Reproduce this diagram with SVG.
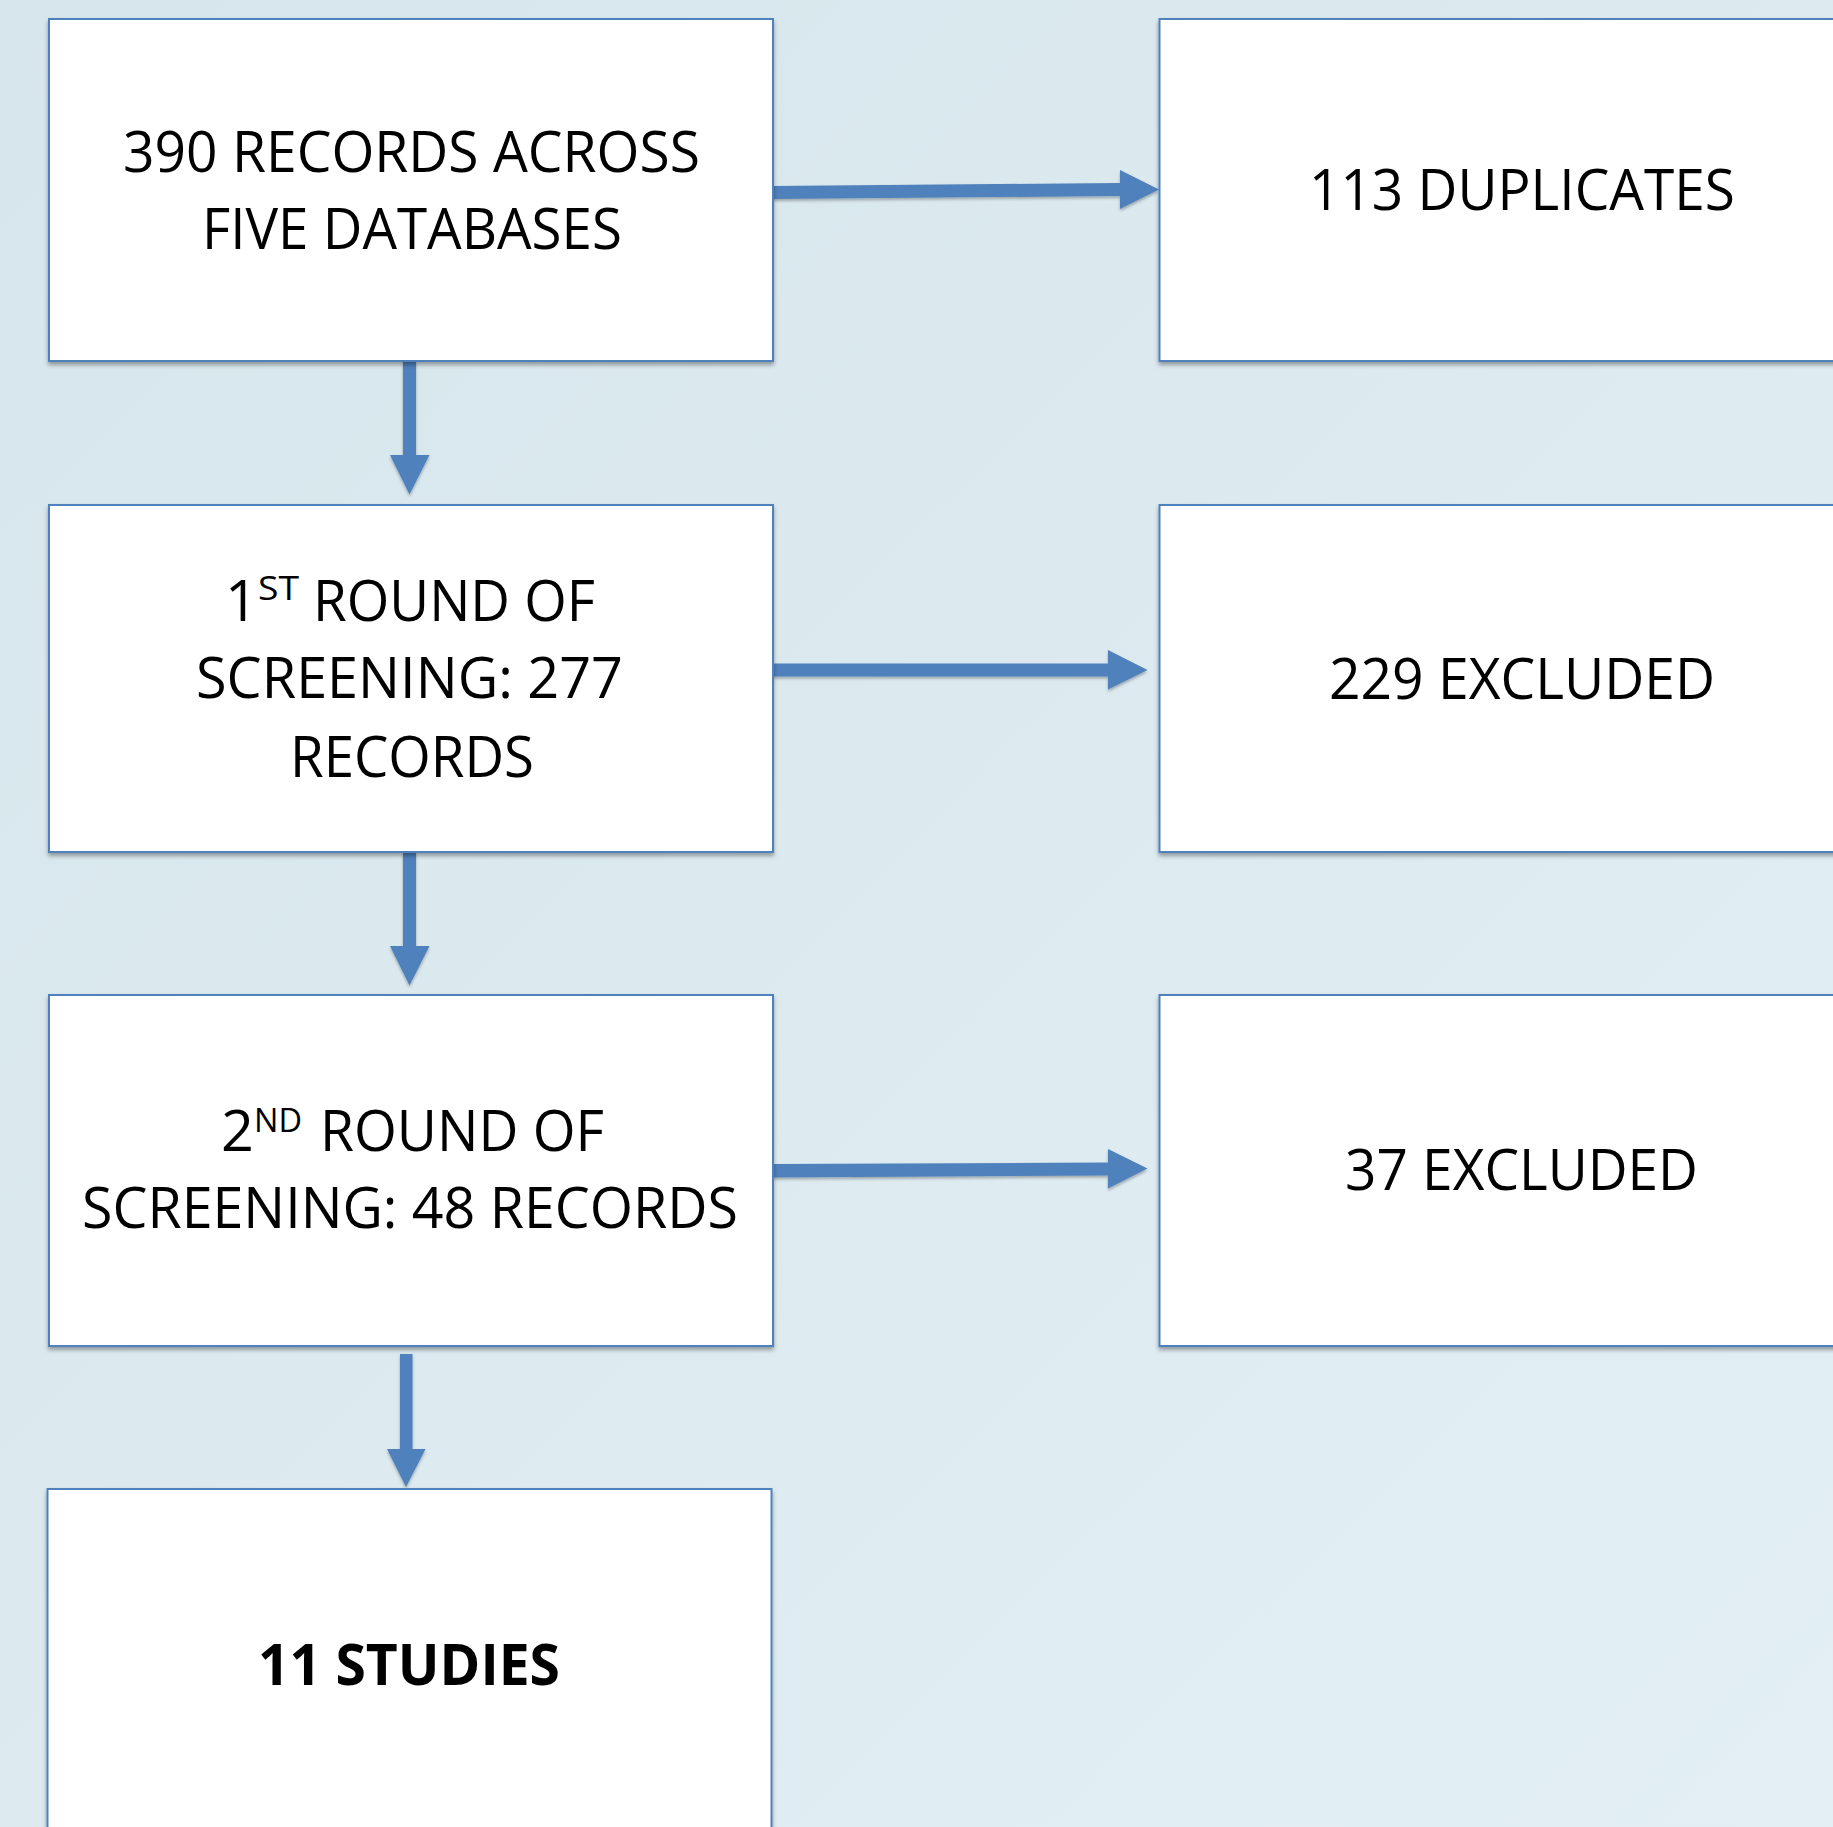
<svg xmlns="http://www.w3.org/2000/svg" width="1833" height="1827" viewBox="0 0 1833 1827">
<style>
.box{fill:#ffffff;stroke:#4f81bd;stroke-width:2;filter:url(#sh)}
.t{font-family:"Open Sans","Noto Sans","Liberation Sans",sans-serif;font-size:57.5px;fill:#000000}
.sup{font-size:33px}
.b{font-weight:bold}
.arr{fill:#4f81bd;filter:url(#ash)}
</style>
<defs>
<linearGradient id="bg" x1="0" y1="0" x2="1" y2="1">
<stop offset="0" stop-color="#d6e6ec"/>
<stop offset="1" stop-color="#e3eff4"/>
</linearGradient>
<filter id="sh" x="-5%" y="-5%" width="110%" height="115%">
<feDropShadow dx="0" dy="3" stdDeviation="2" flood-color="#000" flood-opacity="0.35"/>
</filter>
<filter id="ash" x="-10%" y="-20%" width="120%" height="150%">
<feDropShadow dx="0" dy="2" stdDeviation="1.5" flood-color="#000" flood-opacity="0.3"/>
</filter>
</defs>
<rect x="0" y="0" width="1833" height="1827" fill="url(#bg)"/>

<g id="connectors">
<path class="arr" d="M773,186 L1120,183 L1120,170 L1159,189.5 L1120,209 L1120,196 L773,199 Z"/>
<path class="arr" d="M773,663.5 L1108,663.5 L1108,650 L1147.5,670 L1108,689.5 L1108,676.5 L773,676.5 Z"/>
<path class="arr" d="M773,1164 L1108,1162.5 L1108,1149 L1147.5,1168.5 L1108,1188.5 L1108,1175.5 L773,1177.5 Z"/>
<path class="arr" d="M403,361 L416,361 L416,455 L429.5,455 L409.5,494.5 L390,455 L403,455 Z"/>
<path class="arr" d="M403,852 L416,852 L416,946 L429.5,946 L409.5,985.5 L390,946 L403,946 Z"/>
<path class="arr" d="M400,1354 L412.5,1354 L412.5,1449 L425.5,1449 L406,1487 L387,1449 L400,1449 Z"/>
</g>

<g id="n1">
<rect class="box" x="49" y="19" width="724" height="342"/>
<text class="t" x="123" y="172" textLength="577" lengthAdjust="spacingAndGlyphs">390 RECORDS ACROSS</text>
<text class="t" x="202" y="249" textLength="420" lengthAdjust="spacingAndGlyphs">FIVE DATABASES</text>
</g>
<g id="n2">
<rect class="box" x="1159.5" y="19" width="700" height="342"/>
<text class="t" x="1309" y="210" textLength="426" lengthAdjust="spacingAndGlyphs">113 DUPLICATES</text>
</g>
<g id="n3">
<rect class="box" x="49" y="505" width="724" height="347"/>
<text class="t" y="621"><tspan x="225">1</tspan><tspan class="sup" x="258" y="600" textLength="41" lengthAdjust="spacingAndGlyphs">ST</tspan><tspan x="313" y="621" textLength="282" lengthAdjust="spacingAndGlyphs">ROUND OF</tspan></text>
<text class="t" x="196" y="698" textLength="427" lengthAdjust="spacingAndGlyphs">SCREENING: 277</text>
<text class="t" x="290" y="777" textLength="244" lengthAdjust="spacingAndGlyphs">RECORDS</text>
</g>
<g id="n4">
<rect class="box" x="1159.5" y="505" width="700" height="347"/>
<text class="t" x="1329" y="699" textLength="386" lengthAdjust="spacingAndGlyphs">229 EXCLUDED</text>
</g>
<g id="n5">
<rect class="box" x="49" y="995" width="724" height="351"/>
<text class="t" y="1151"><tspan x="221">2</tspan><tspan class="sup" x="254" y="1131.5" textLength="48" lengthAdjust="spacingAndGlyphs">ND</tspan><tspan x="320" y="1151" textLength="284" lengthAdjust="spacingAndGlyphs">ROUND OF</tspan></text>
<text class="t" x="82" y="1228" textLength="656" lengthAdjust="spacingAndGlyphs">SCREENING: 48 RECORDS</text>
</g>
<g id="n6">
<rect class="box" x="1159.5" y="995" width="700" height="351"/>
<text class="t" x="1345" y="1190" textLength="353" lengthAdjust="spacingAndGlyphs">37 EXCLUDED</text>
</g>
<g id="n7">
<rect class="box" x="47.5" y="1489" width="724" height="380"/>
<text class="t b" x="258" y="1685" textLength="302" lengthAdjust="spacingAndGlyphs">11 STUDIES</text>
</g>
</svg>
